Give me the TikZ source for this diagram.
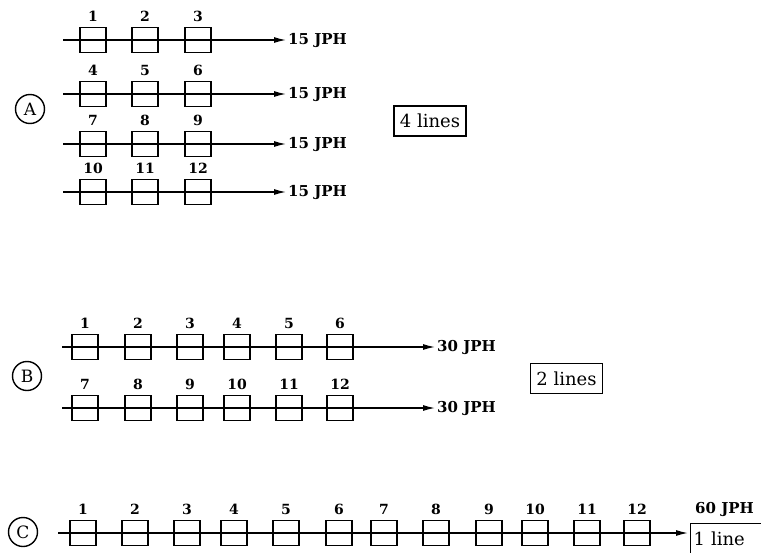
\documentclass[tikz,border=0pt]{standalone}
\usepackage{fontspec}
\setmainfont{DejaVu Serif}
\usetikzlibrary{arrows.meta}
\tikzset{
  stbox/.style={draw, line width=1.5pt, minimum width=26pt, minimum height=25pt, inner sep=0pt},
  lbl/.style={font=\fontsize{14}{14}\selectfont\bfseries, inner sep=0pt, anchor=south},
  flow/.style={line width=1.3pt, -{Latex[length=12pt,width=6pt]}},
  rate/.style={font=\fontsize{15}{15}\selectfont\bfseries, anchor=west, inner sep=2pt},
  tagbox/.style={draw, line width=1.3pt, font=\fontsize{18}{18}\selectfont, inner xsep=6pt, minimum height=30pt},
  circ/.style={circle, draw, line width=1.4pt, minimum size=29pt, inner sep=0pt, font=\fontsize{17}{17}\selectfont}
}
\begin{document}
\begin{tikzpicture}[x=1pt,y=-1pt]
\useasboundingbox (0,0) rectangle (761,552);
% ---------- A ----------
\node[circ] (cA) at (30,109) {A};
\foreach \y [count=\r from 0] in {40,94,144,192} {
  \coordinate (as\r) at (63,\y);
  \node[rate] (ar\r) at (286,\y) {15 JPH};
  \draw[flow] (as\r) -- (ar\r.west);
  \foreach \x [count=\k] in {93,145,198} {
    \pgfmathtruncatemacro\n{3*\r+\k}
    \node[stbox] (a\n) at (\x,\y) {};
    \node[lbl] (la\n) at ([yshift=5pt]a\n.north) {\n};
  }
}
\node[tagbox] (tA) at (430,121) {4 lines};
% ---------- B ----------
\node[circ] (cB) at (27,376) {B};
\foreach \y [count=\r from 0] in {347,408} {
  \coordinate (bs\r) at (62,\y);
  \node[rate] (br\r) at (435,\y) {30 JPH};
  \draw[flow] (bs\r) -- (br\r.west);
  \foreach \x [count=\k] in {85,138,190,237,289,340} {
    \pgfmathtruncatemacro\n{6*\r+\k}
    \node[stbox] (b\n) at (\x,\y) {};
    \node[lbl] (lb\n) at ([yshift=5pt]b\n.north) {\n};
  }
}
\node[tagbox] (tB) at (566.5,378.5) {2 lines};
% ---------- C ----------
\node[circ] (cC) at (23,532) {C};
\coordinate (cs) at (58,533);
\coordinate (ce) at (688,533);
\draw[flow] (cs) -- (ce);
\foreach \x [count=\k] in {83,135,187,234,286,339,384,436,489,535,587,637} {
  \node[stbox] (c\k) at (\x,533) {};
  \node[lbl] (lc\k) at ([yshift=5pt]c\k.north) {\k};
}
\node[rate, anchor=south west] (cr) at (693,519) {60 JPH};
\node[draw, line width=1.3pt, anchor=north west, font=\fontsize{18}{18}\selectfont,
      text width=110pt, align=left, inner xsep=3pt, minimum height=31pt] (tC) at (690,523) {1 line};
\end{tikzpicture}
\end{document}
